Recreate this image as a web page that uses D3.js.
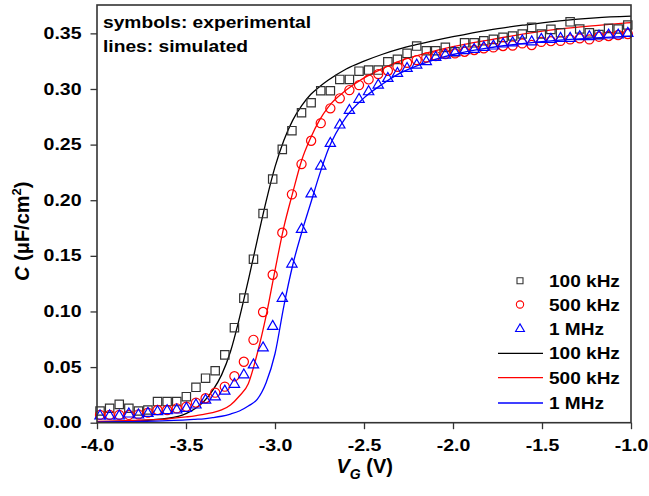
<!DOCTYPE html>
<html>
<head>
<meta charset="utf-8">
<script src="https://cdn.jsdelivr.net/npm/d3@7"></script>
<style>
  body { margin: 0; background: #fff; }
  svg { display: block; }
</style>
</head>
<body>
<div class="cv_chart"></div>
<script>
// measured gate voltages (shared by the three measured series)
var v_gate = [-3.983, -3.929, -3.875, -3.821, -3.767, -3.714, -3.660, -3.606, -3.552, -3.498,
  -3.444, -3.390, -3.336, -3.282, -3.228, -3.175, -3.121, -3.067, -3.013, -2.959,
  -2.905, -2.851, -2.797, -2.743, -2.689, -2.636, -2.582, -2.528, -2.474, -2.420,
  -2.366, -2.312, -2.258, -2.204, -2.150, -2.097, -2.043, -1.989, -1.935, -1.881,
  -1.827, -1.773, -1.719, -1.665, -1.611, -1.558, -1.504, -1.450, -1.396, -1.342,
  -1.288, -1.234, -1.180, -1.126, -1.072, -1.018];

var exp_100k = [0.0105, 0.013, 0.0165, 0.013, 0.0105, 0.0114, 0.019, 0.019, 0.019, 0.0234,
  0.0318, 0.040, 0.0467, 0.061, 0.0854, 0.112, 0.147, 0.188, 0.219, 0.2457,
  0.2625, 0.2786, 0.2876, 0.2984, 0.2984, 0.3086, 0.3086, 0.316, 0.317, 0.317,
  0.3245, 0.3266, 0.332, 0.3386, 0.3344, 0.3344, 0.3374, 0.3335, 0.3415, 0.3415,
  0.3433, 0.3446, 0.3464, 0.3476, 0.3494, 0.3554, 0.3494, 0.3536, 0.3505, 0.3604,
  0.3539, 0.3505, 0.349, 0.3545, 0.3539, 0.3575];

var exp_500k = [0.007, 0.007, 0.007, 0.007, 0.0075, 0.009, 0.0114, 0.0114, 0.0129, 0.0144,
  0.018, 0.022, 0.027, 0.0324, 0.0418, 0.0548, 0.0745, 0.0995, 0.133, 0.1708,
  0.2053, 0.2325, 0.2535, 0.2693, 0.2826, 0.2916, 0.299, 0.3035, 0.3086, 0.3134,
  0.3164, 0.32, 0.3236, 0.326, 0.3284, 0.3296, 0.3314, 0.332, 0.3335, 0.335,
  0.3365, 0.3374, 0.3386, 0.339, 0.341, 0.3395, 0.3424, 0.343, 0.3433, 0.3446,
  0.3455, 0.3446, 0.347, 0.3476, 0.3485, 0.3494];

var exp_1M = [0.006, 0.006, 0.006, 0.0078, 0.0069, 0.0084, 0.0099, 0.0108, 0.0114, 0.0129,
  0.0159, 0.0202, 0.0232, 0.0284, 0.0345, 0.0429, 0.052, 0.0673, 0.0866, 0.1118,
  0.1426, 0.1738, 0.2056, 0.2307, 0.2511, 0.2676, 0.2807, 0.2907, 0.2975, 0.3035,
  0.3095, 0.314, 0.3185, 0.3215, 0.3245, 0.3284, 0.3305, 0.3326, 0.3344, 0.3356,
  0.3374, 0.3386, 0.3404, 0.3415, 0.3433, 0.3424, 0.3446, 0.3446, 0.3455, 0.3455,
  0.347, 0.347, 0.3476, 0.3485, 0.3485, 0.35];

// simulated curves
var v_sim = [-4.0, -3.8, -3.6, -3.5, -3.45, -3.4, -3.35, -3.3, -3.25, -3.2,
  -3.15, -3.1, -3.05, -3.0, -2.95, -2.9, -2.85, -2.8, -2.75, -2.7,
  -2.6, -2.5, -2.4, -2.3, -2.2, -2.0, -1.8, -1.6, -1.4, -1.2, -1.0];

var sim_100k = [0.0008, 0.0016, 0.004, 0.0082, 0.0125, 0.019, 0.029, 0.043, 0.064, 0.094,
  0.128, 0.164, 0.199, 0.23, 0.254, 0.272, 0.285, 0.295, 0.302, 0.308,
  0.318, 0.325, 0.331, 0.336, 0.340, 0.347, 0.353, 0.3575, 0.3613, 0.364, 0.3655];

var sim_500k = [0.0012, 0.002, 0.0035, 0.0052, 0.0062, 0.0075, 0.009, 0.0115, 0.016, 0.024,
  0.035, 0.062, 0.096, 0.137, 0.176, 0.207, 0.236, 0.256, 0.272, 0.284,
  0.299, 0.310, 0.318, 0.325, 0.330, 0.338, 0.344, 0.3495, 0.354, 0.357, 0.3597];

var sim_1M = [0.0005, 0.001, 0.0018, 0.0025, 0.003, 0.0035, 0.0045, 0.0058, 0.0078, 0.0105,
  0.015, 0.021, 0.036, 0.062, 0.105, 0.142, 0.171, 0.197, 0.223, 0.246,
  0.275, 0.292, 0.304, 0.314, 0.321, 0.331, 0.337, 0.341, 0.344, 0.346, 0.3475];

var x_ticks = [-4.0, -3.5, -3.0, -2.5, -2.0, -1.5, -1.0];
var x_minor = [-3.75, -3.25, -2.75, -2.25, -1.75, -1.25];
var y_ticks = [0.00, 0.05, 0.10, 0.15, 0.20, 0.25, 0.30, 0.35];
var y_minor = [0.025, 0.075, 0.125, 0.175, 0.225, 0.275, 0.325];

var series_names = ["100 kHz", "500 kHz", "1 MHz"];
var series_colors = ["#000000", "#ff0000", "#0000ff"];
var series_symbols = [d3.symbolSquare, d3.symbolCircle, d3.symbolTriangle];

var width = 649, height = 496;
var font = "'Liberation Sans', Arial, sans-serif";

var svg = d3.select(".cv_chart").append("svg")
  .attr("width", width)
  .attr("height", height);

var x_scale = d3.scaleLinear().domain([-4, -1]).range([97, 631]);
var y_scale = d3.scaleLinear().domain([0, 0.3755]).range([422.7, 5]);

// stretched bold text, like the source
var add_text = function (parent, x, y, str, size, stretch, anchor) {
  parent.append("g")
    .attr("transform", "translate(" + x + "," + y + ")")
    .append("text")
      .attr("transform", "scale(" + stretch + ",1)")
      .attr("text-anchor", anchor || "start")
      .style("font-family", font)
      .style("font-weight", "bold")
      .style("font-size", size + "px")
      .attr("fill", "#000")
      .text(str);
};

// curves
var line_gen = d3.line()
  .x(d => x_scale(d[0]))
  .y(d => y_scale(d[1]))
  .curve(d3.curveMonotoneX);

[sim_100k, sim_500k, sim_1M].forEach(function (vals, k) {
  svg.append("path")
    .datum(v_sim.map((v, i) => [v, vals[i]]))
    .attr("d", line_gen)
    .attr("fill", "none")
    .attr("stroke", series_colors[k])
    .attr("stroke-width", 1.3);
});

// measured symbols
var sym_sizes = [70, 66, 46];
[exp_100k, exp_500k, exp_1M].forEach(function (vals, k) {
  svg.append("g").selectAll("path")
    .data(v_gate.map((v, i) => [v, vals[i]]))
    .enter()
    .append("path")
      .attr("transform", d => "translate(" + x_scale(d[0]) + "," + y_scale(d[1]) + ")")
      .attr("d", d3.symbol().type(series_symbols[k]).size(sym_sizes[k]))
      .attr("fill", "none")
      .attr("stroke", k === 0 ? "#333" : series_colors[k])
      .attr("stroke-width", 1.2);
});

// axes
var x_axis_g = svg.append("g").attr("transform", "translate(0,422.7)");
x_axis_g.call(d3.axisBottom(x_scale).tickValues(x_minor).tickSize(4).tickFormat(""));
x_axis_g.call(d3.axisBottom(x_scale).tickValues(x_ticks).tickSize(6.5).tickFormat(d3.format(".1f")));

var y_axis_g = svg.append("g").attr("transform", "translate(97,0)");
y_axis_g.call(d3.axisLeft(y_scale).tickValues(y_minor).tickSize(3.5).tickFormat(""));
y_axis_g.call(d3.axisLeft(y_scale).tickValues(y_ticks).tickSize(6.5).tickFormat(d3.format(".2f")));

svg.selectAll(".domain").remove();
svg.selectAll(".tick line").attr("stroke", "#333").attr("stroke-width", 1.3);
svg.selectAll(".tick text")
  .style("font-family", font)
  .style("font-weight", "bold")
  .style("font-size", "16px")
  .attr("fill", "#000")
  .text(function () { return this.textContent.replace("\u2212", "-"); });

x_axis_g.selectAll(".tick text")
  .attr("x", 0)
  .attr("y", 28)
  .attr("dy", null)
  .attr("transform", "scale(1.22,1)");
y_axis_g.selectAll(".tick text")
  .attr("x", -15.5 / 1.22)
  .attr("transform", "scale(1.22,1)");

// frame
svg.append("rect")
  .attr("x", 97).attr("y", 5)
  .attr("width", 631 - 97).attr("height", 422.7 - 5)
  .attr("fill", "none")
  .attr("stroke", "#333")
  .attr("stroke-width", 1.6);

// notes
add_text(svg, 103, 28, "symbols: experimental", 17, 1.13);
add_text(svg, 103, 52, "lines: simulated", 17, 1.13);

// legend
var leg_rows = [280.7, 304.5, 329, 353.3, 377.7, 403];
var leg_sizes = [36, 42, 34];
series_names.forEach(function (name, k) {
  var ry = leg_rows[k];
  svg.append("path")
    .attr("transform", "translate(520," + ry + ")")
    .attr("d", d3.symbol().type(series_symbols[k]).size(leg_sizes[k]))
    .attr("fill", "none")
    .attr("stroke", k === 0 ? "#333" : series_colors[k])
    .attr("stroke-width", 1.1);
  add_text(svg, 549, ry + 6, name, 16, 1.19);
});
series_names.forEach(function (name, k) {
  var ry = leg_rows[k + 3];
  svg.append("line")
    .attr("x1", 498).attr("x2", 543)
    .attr("y1", ry).attr("y2", ry)
    .attr("stroke", series_colors[k])
    .attr("stroke-width", 1.3);
  add_text(svg, 549, ry + 6, name, 16, 1.19);
});

// axis titles
var x_title = svg.append("text")
  .attr("x", 336.5)
  .attr("y", 473)
  .style("font-family", font)
  .style("font-weight", "bold")
  .style("font-size", "20px");
x_title.append("tspan").style("font-style", "italic").text("V");
x_title.append("tspan").style("font-style", "italic").style("font-size", "14px")
  .attr("dy", 6).text("G");
x_title.append("tspan").attr("dy", -6).text(" (V)");

var y_title = svg.append("text")
  .attr("transform", "translate(29,281) rotate(-90)")
  .style("font-family", font)
  .style("font-weight", "bold")
  .style("font-size", "20px");
y_title.append("tspan").style("font-style", "italic").text("C");
y_title.append("tspan").text(" (\u03bcF/cm");
y_title.append("tspan").style("font-size", "13px").attr("dy", -8).text("2");
y_title.append("tspan").attr("dy", 8).text(")");
</script>
</body>
</html>
